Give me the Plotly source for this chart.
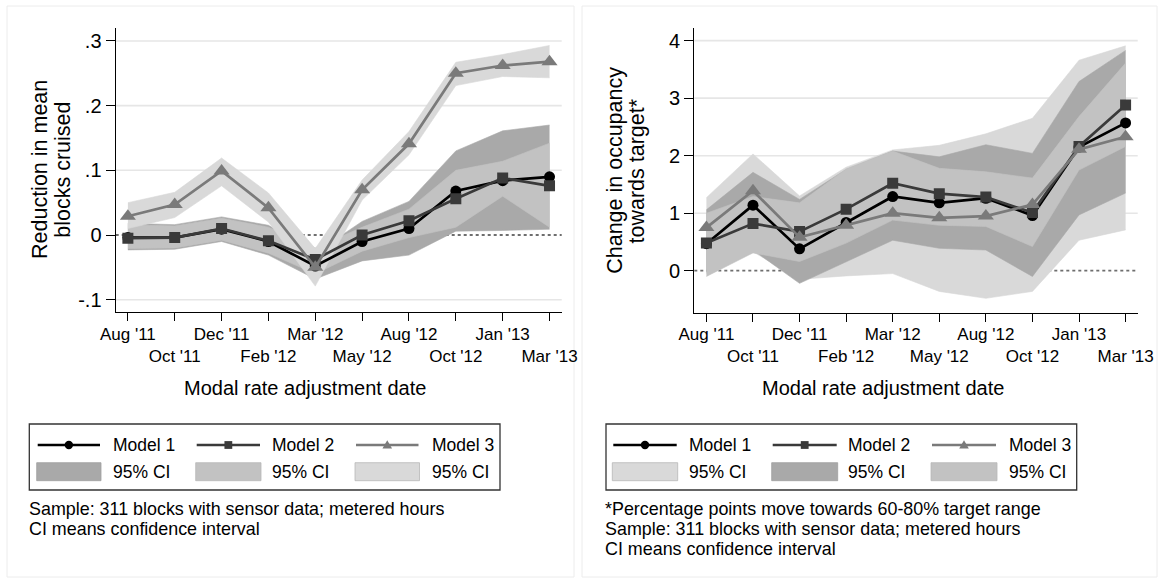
import plotly.graph_objects as go

W, H = 1160, 580

dates = ["Aug '11", "Oct '11", "Dec '11", "Feb '12", "Mar '12",
         "May '12", "Aug '12", "Oct '12", "Jan '13", "Mar '13"]

# ---- Left panel: reduction in mean blocks cruised
cruise_m1 = [-0.004, -0.004, 0.009, -0.010, -0.048, -0.010, 0.010, 0.068, 0.084, 0.090]
cruise_m2 = [-0.005, -0.004, 0.010, -0.009, -0.038, 0.000, 0.022, 0.056, 0.088, 0.076]
cruise_m3 = [0.029, 0.047, 0.099, 0.042, -0.050, 0.070, 0.141, 0.250, 0.262, 0.268]
cruise_m1_lo = [-0.023, -0.022, -0.010, -0.031, -0.068, -0.040, -0.031, 0.006, 0.007, 0.009]
cruise_m1_hi = [0.018, 0.016, 0.028, 0.015, -0.028, 0.021, 0.052, 0.130, 0.161, 0.170]
cruise_m2_lo = [-0.021, -0.020, -0.008, -0.028, -0.060, -0.025, -0.004, 0.012, 0.060, 0.012]
cruise_m2_hi = [0.016, 0.014, 0.026, 0.012, -0.020, 0.012, 0.040, 0.100, 0.114, 0.142]
cruise_m3_lo = [0.010, 0.027, 0.076, 0.020, -0.079, 0.054, 0.124, 0.231, 0.245, 0.243]
cruise_m3_hi = [0.050, 0.066, 0.119, 0.065, -0.021, 0.085, 0.160, 0.267, 0.279, 0.293]
cruise_ticks = [-0.1, 0, 0.1, 0.2, 0.3]
cruise_ticktext = ["-.1", "0", ".1", ".2", ".3"]

# ---- Right panel: change in occupancy towards target
occ_m1 = [0.47, 1.14, 0.38, 0.84, 1.29, 1.18, 1.26, 0.96, 2.15, 2.57]
occ_m2 = [0.48, 0.82, 0.68, 1.07, 1.52, 1.34, 1.28, 1.01, 2.16, 2.88]
occ_m3 = [0.75, 1.39, 0.58, 0.79, 1.00, 0.92, 0.95, 1.15, 2.11, 2.33]
occ_m1_lo = [-0.05, 0.33, -0.15, -0.09, -0.05, -0.36, -0.48, -0.36, 0.53, 0.71]
occ_m1_hi = [1.27, 2.03, 1.30, 1.80, 2.10, 2.18, 2.38, 2.65, 3.66, 3.91]
occ_m2_lo = [-0.02, 0.36, -0.22, 0.15, 0.53, 0.39, 0.36, -0.10, 0.97, 1.35]
occ_m2_hi = [1.06, 1.71, 1.24, 1.76, 2.08, 1.98, 2.19, 2.04, 3.29, 3.83]
occ_m3_lo = [-0.10, 0.31, 0.16, 0.48, 0.88, 0.79, 0.77, 0.42, 1.75, 2.16]
occ_m3_hi = [1.00, 1.29, 1.18, 1.77, 2.08, 1.78, 1.72, 1.61, 2.68, 3.61]
occ_ticks = [0, 1, 2, 3, 4]
occ_ticktext = ["0", "1", "2", "3", "4"]

model_names = ["Model 1", "Model 2", "Model 3"]
ci_label = "95% CI"

FONT = "Liberation Sans, Arial, Helvetica, sans-serif"
C_DARK, C_MED, C_LIGHT = "#a9a9a9", "#c2c2c2", "#d9d9d9"
line_colors = ["#000000", "#3a3a3a", "#7a7a7a"]
symbols = ["circle", "square", "triangle-up"]
marker_sizes = [11, 11, 14]

x = list(range(len(dates)))

fig = go.Figure()


def add_band(lo, hi, color, xa, ya):
    fig.add_trace(go.Scatter(x=x, y=lo, mode="lines", line=dict(width=0.6, color=color),
                             xaxis=xa, yaxis=ya, showlegend=False, hoverinfo="skip"))
    fig.add_trace(go.Scatter(x=x, y=hi, mode="lines", line=dict(width=0.6, color=color),
                             fill="tonexty", fillcolor=color,
                             xaxis=xa, yaxis=ya, showlegend=False, hoverinfo="skip"))


def add_model(vals, i, xa, ya):
    fig.add_trace(go.Scatter(
        x=x, y=vals, mode="lines+markers", name=model_names[i],
        line=dict(color=line_colors[i], width=2.7),
        marker=dict(symbol=symbols[i], size=marker_sizes[i], color=line_colors[i]),
        xaxis=xa, yaxis=ya, showlegend=False))


# left panel (CI colours: dark, medium, light)
add_band(cruise_m1_lo, cruise_m1_hi, C_DARK, "x", "y")
add_band(cruise_m2_lo, cruise_m2_hi, C_MED, "x", "y")
add_band(cruise_m3_lo, cruise_m3_hi, C_LIGHT, "x", "y")
for i, v in enumerate([cruise_m1, cruise_m2, cruise_m3]):
    add_model(v, i, "x", "y")

# right panel (CI colours: light, dark, medium)
add_band(occ_m1_lo, occ_m1_hi, C_LIGHT, "x2", "y2")
add_band(occ_m2_lo, occ_m2_hi, C_DARK, "x2", "y2")
add_band(occ_m3_lo, occ_m3_hi, C_MED, "x2", "y2")
for i, v in enumerate([occ_m1, occ_m2, occ_m3]):
    add_model(v, i, "x2", "y2")

ticktext_x = [d if k % 2 == 0 else "<br>" + d for k, d in enumerate(dates)]

axis_common = dict(showline=True, linecolor="#000", linewidth=1.3, ticks="outside",
                   tickcolor="#000", tickwidth=1.3, showgrid=False, zeroline=False,
                   fixedrange=True, automargin=False)
xaxis_common = dict(axis_common, tickmode="array", tickvals=x, ticktext=ticktext_x,
                    range=[-0.26, 9.26], ticklen=8, tickangle=0, ticklabelstandoff=-2,
                    tickfont=dict(family=FONT, size=17, color="#000"))

fig.update_layout(
    width=W, height=H, margin=dict(l=0, r=0, t=0, b=0, pad=0, autoexpand=False),
    paper_bgcolor="white", plot_bgcolor="white", showlegend=False,
    font=dict(family=FONT, color="#000"),
    xaxis=dict(xaxis_common, domain=[115.7 / W, 561.7 / W], anchor="y"),
    yaxis=dict(axis_common, domain=[1 - 312 / H, 1 - 28 / H], anchor="x",
               range=[-0.119, 0.320], tickmode="array", tickvals=cruise_ticks,
               ticktext=cruise_ticktext, ticklen=9,
               tickfont=dict(family=FONT, size=20, color="#000")),
    xaxis2=dict(xaxis_common, domain=[694.3 / W, 1137.7 / W], anchor="y2"),
    yaxis2=dict(axis_common, domain=[1 - 312.7 / H, 1 - 28 / H], anchor="x2",
                range=[-0.73, 4.22], tickmode="array", tickvals=occ_ticks,
                ticktext=occ_ticktext, ticklen=9,
                tickfont=dict(family=FONT, size=20, color="#000")),
)

shapes = []
# grid lines and dotted zero lines
for xa, ya, ticks in [("x", "y", cruise_ticks), ("x2", "y2", occ_ticks)]:
    for t in ticks:
        if t == 0:
            shapes.append(dict(type="line", xref=xa + " domain", yref=ya, x0=0, x1=1, y0=0, y1=0,
                               line=dict(color="#6e6e6e", width=1.8, dash="dot"), layer="below"))
        else:
            shapes.append(dict(type="line", xref=xa + " domain", yref=ya, x0=0, x1=1, y0=t, y1=t,
                               line=dict(color="#e6e6e6", width=1.6), layer="below"))


def px(v):
    return v / W


def py(v):
    return 1 - v / H


# outer frames of the two graphs
for x0, x1 in [(7, 574), (582, 1157)]:
    shapes.append(dict(type="rect", xref="paper", yref="paper", x0=px(x0), x1=px(x1),
                       y0=py(577), y1=py(6), line=dict(color="#ececec", width=1), layer="below"))

annotations = []


def text(xp, yp, s, size, xanchor="left", angle=0):
    annotations.append(dict(x=px(xp), y=py(yp), xref="paper", yref="paper", text=s,
                            showarrow=False, xanchor=xanchor, yanchor="middle",
                            textangle=angle, font=dict(family=FONT, size=size, color="#000")))


# y axis titles
text(40, 170, "Reduction in mean", 21.5, "center", -90)
text(62.7, 170, "blocks cruised", 21.5, "center", -90)
text(615, 170.8, "Change in occupancy", 21.5, "center", -90)
text(636.7, 170.8, "towards target*", 21.5, "center", -90)
# x axis titles
text(305, 388.3, "Modal rate adjustment date", 20, "center")
text(882.5, 388.3, "Modal rate adjustment date", 20, "center")

# legends
legend_specs = [
    dict(box=(29.3, 500), line_x=[(37.7, 100), (196.7, 260), (356, 418.5)],
         text_x=[111, 270, 430], ci_colors=[C_DARK, C_MED, C_LIGHT]),
    dict(box=(606, 1076.7), line_x=[(613.3, 676.7), (772.7, 836.7), (932, 996)],
         text_x=[686.7, 846, 1006.7], ci_colors=[C_LIGHT, C_DARK, C_MED]),
]
row1, row2 = 445, 472
for spec in legend_specs:
    bx0, bx1 = spec["box"]
    shapes.append(dict(type="rect", xref="paper", yref="paper", x0=px(bx0), x1=px(bx1),
                       y0=py(490), y1=py(424), line=dict(color="#333", width=1.3)))
    for i in range(3):
        lx0, lx1 = spec["line_x"][i]
        cx = (lx0 + lx1) / 2
        shapes.append(dict(type="line", xref="paper", yref="paper", x0=px(lx0), x1=px(lx1),
                           y0=py(row1), y1=py(row1), line=dict(color=line_colors[i], width=2.4)))
        r = 4.2
        if i == 0:
            shapes.append(dict(type="circle", xref="paper", yref="paper", x0=px(cx - r), x1=px(cx + r),
                               y0=py(row1 + r), y1=py(row1 - r), fillcolor=line_colors[i],
                               line=dict(width=0)))
        elif i == 1:
            shapes.append(dict(type="rect", xref="paper", yref="paper", x0=px(cx - 3.9), x1=px(cx + 3.9),
                               y0=py(row1 + 3.9), y1=py(row1 - 3.9), fillcolor=line_colors[i],
                               line=dict(width=0)))
        else:
            path = "M %f %f L %f %f L %f %f Z" % (px(cx - 4.8), py(row1 + 3.6), px(cx + 4.8), py(row1 + 3.6),
                                                px(cx), py(row1 - 4.8))
            shapes.append(dict(type="path", xref="paper", yref="paper", path=path,
                               fillcolor=line_colors[i], line=dict(width=0)))
        shapes.append(dict(type="rect", xref="paper", yref="paper", x0=px(lx0 - 1), x1=px(lx1 + 1),
                           y0=py(480.7), y1=py(462.7), fillcolor=spec["ci_colors"][i],
                           line=dict(color="#b8b8b8" if spec["ci_colors"][i] != C_DARK else "#9e9e9e",
                                     width=0.8)))
        text(spec["text_x"][i], row1, model_names[i], 17.5)
        text(spec["text_x"][i], row2, ci_label, 17.5)

# notes
NOTE = 17.9
text(26.7, 509.3, "Sample: 311 blocks with sensor data; metered hours", NOTE)
text(26.7, 529.3, "CI means confidence interval", NOTE)
text(603.3, 509.3, "*Percentage points move towards 60-80% target range", NOTE)
text(603.3, 529.3, "Sample: 311 blocks with sensor data; metered hours", NOTE)
text(603.3, 549.3, "CI means confidence interval", NOTE)

fig.update_layout(shapes=shapes, annotations=annotations)
fig.write_html("out.html")
